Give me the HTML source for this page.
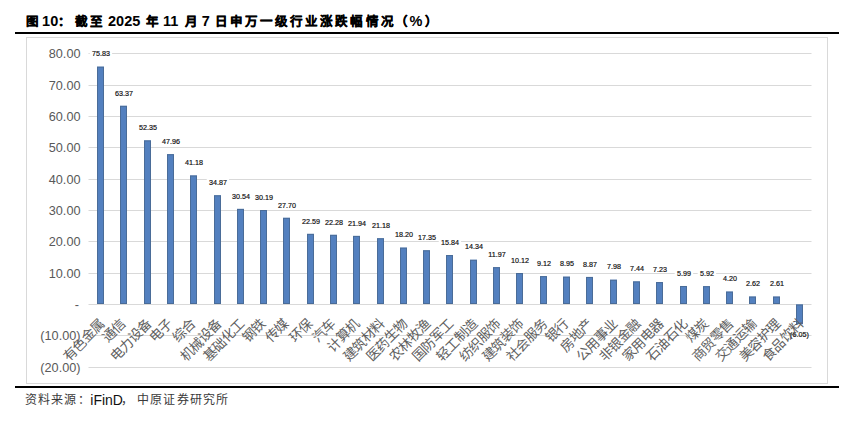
<!DOCTYPE html>
<html lang="zh-CN"><head><meta charset="utf-8">
<style>
html,body{margin:0;padding:0;background:#fff;width:854px;height:429px;overflow:hidden;}
body{position:relative;font-family:"Liberation Sans",sans-serif;}
.ts{position:absolute;top:12px;font-size:14.5px;font-weight:bold;color:#000;white-space:nowrap;line-height:18px;}
.ts.c{-webkit-text-stroke:0.3px #000;margin-top:1px;font-size:12.5px;letter-spacing:2.1px;}
.ss{position:absolute;top:392px;font-size:12px;color:#111;white-space:nowrap;line-height:16px;}
.ss.c{letter-spacing:1.2px;color:#3a3a3a;}
.ss.d{font-size:14px;}
.rule{position:absolute;left:15px;width:824px;height:2px;background:#000;}
.frame{position:absolute;left:26px;top:37px;width:802px;height:347px;border:1px solid #d9d9d9;box-sizing:border-box;}
svg{position:absolute;left:0;top:0;}
.yl{font-family:"Liberation Sans",sans-serif;font-size:12.7px;fill:#595959;text-anchor:end;}
.dl{font-family:"Liberation Sans",sans-serif;font-size:8px;font-weight:normal;fill:#111;stroke:#111;stroke-width:0.2px;text-anchor:middle;}
.cl{font-family:"Liberation Sans",sans-serif;font-size:13.5px;letter-spacing:0px;fill:#606060;text-anchor:end;}
</style></head><body>
<span class="ts c" style="left:26.00px">图</span><span class="ts d" style="left:42.10px">10</span><span class="ts c" style="left:58.40px">：</span><span class="ts c" style="left:75.10px">截至</span><span class="ts d" style="left:108.00px">2025</span><span class="ts c" style="left:146.00px">年</span><span class="ts d" style="left:162.90px">11</span><span class="ts c" style="left:185.00px">月</span><span class="ts d" style="left:201.80px">7</span><span class="ts c" style="left:214.60px">日申万一级行业涨跌幅情况</span><span class="ts c" style="left:395.00px">（</span><span class="ts d" style="left:409.50px">%</span><span class="ts c" style="left:425.00px">）</span>
<div class="rule" style="top:32px"></div>
<div class="frame"></div>
<svg width="854" height="429" viewBox="0 0 854 429">
<line x1="88.5" y1="367.50" x2="811.5" y2="367.50" stroke="#d9d9d9" stroke-width="1"/>
<text x="80.5" y="372.00" class="yl">(20.00)</text>
<line x1="88.5" y1="335.50" x2="811.5" y2="335.50" stroke="#d9d9d9" stroke-width="1"/>
<text x="80.5" y="340.00" class="yl">(10.00)</text>
<line x1="88.5" y1="304.50" x2="811.5" y2="304.50" stroke="#d9d9d9" stroke-width="1"/>
<text x="79.0" y="309.00" class="yl">-</text>
<line x1="88.5" y1="273.50" x2="811.5" y2="273.50" stroke="#d9d9d9" stroke-width="1"/>
<text x="80.5" y="278.00" class="yl">10.00</text>
<line x1="88.5" y1="241.50" x2="811.5" y2="241.50" stroke="#d9d9d9" stroke-width="1"/>
<text x="80.5" y="246.00" class="yl">20.00</text>
<line x1="88.5" y1="210.50" x2="811.5" y2="210.50" stroke="#d9d9d9" stroke-width="1"/>
<text x="80.5" y="215.00" class="yl">30.00</text>
<line x1="88.5" y1="179.50" x2="811.5" y2="179.50" stroke="#d9d9d9" stroke-width="1"/>
<text x="80.5" y="184.00" class="yl">40.00</text>
<line x1="88.5" y1="147.50" x2="811.5" y2="147.50" stroke="#d9d9d9" stroke-width="1"/>
<text x="80.5" y="152.00" class="yl">50.00</text>
<line x1="88.5" y1="116.50" x2="811.5" y2="116.50" stroke="#d9d9d9" stroke-width="1"/>
<text x="80.5" y="121.00" class="yl">60.00</text>
<line x1="88.5" y1="85.50" x2="811.5" y2="85.50" stroke="#d9d9d9" stroke-width="1"/>
<text x="80.5" y="90.00" class="yl">70.00</text>
<line x1="88.5" y1="53.50" x2="811.5" y2="53.50" stroke="#d9d9d9" stroke-width="1"/>
<text x="80.5" y="58.00" class="yl">80.00</text>
<rect x="97" y="66.69" width="7" height="237.31" fill="#5380bf"/>
<rect x="97.5" y="67.19" width="6" height="236.31" fill="none" stroke="#4a6c98" stroke-width="1"/>
<rect x="120" y="105.82" width="7" height="198.18" fill="#5380bf"/>
<rect x="120.5" y="106.32" width="6" height="197.18" fill="none" stroke="#4a6c98" stroke-width="1"/>
<rect x="144" y="140.42" width="7" height="163.58" fill="#5380bf"/>
<rect x="144.5" y="140.92" width="6" height="162.58" fill="none" stroke="#4a6c98" stroke-width="1"/>
<rect x="167" y="154.21" width="7" height="149.79" fill="#5380bf"/>
<rect x="167.5" y="154.71" width="6" height="148.79" fill="none" stroke="#4a6c98" stroke-width="1"/>
<rect x="190" y="175.49" width="7" height="128.51" fill="#5380bf"/>
<rect x="190.5" y="175.99" width="6" height="127.51" fill="none" stroke="#4a6c98" stroke-width="1"/>
<rect x="214" y="195.31" width="7" height="108.69" fill="#5380bf"/>
<rect x="214.5" y="195.81" width="6" height="107.69" fill="none" stroke="#4a6c98" stroke-width="1"/>
<rect x="237" y="208.90" width="7" height="95.10" fill="#5380bf"/>
<rect x="237.5" y="209.40" width="6" height="94.10" fill="none" stroke="#4a6c98" stroke-width="1"/>
<rect x="260" y="210.00" width="7" height="94.00" fill="#5380bf"/>
<rect x="260.5" y="210.50" width="6" height="93.00" fill="none" stroke="#4a6c98" stroke-width="1"/>
<rect x="283" y="217.82" width="7" height="86.18" fill="#5380bf"/>
<rect x="283.5" y="218.32" width="6" height="85.18" fill="none" stroke="#4a6c98" stroke-width="1"/>
<rect x="307" y="233.87" width="7" height="70.13" fill="#5380bf"/>
<rect x="307.5" y="234.37" width="6" height="69.13" fill="none" stroke="#4a6c98" stroke-width="1"/>
<rect x="330" y="234.84" width="7" height="69.16" fill="#5380bf"/>
<rect x="330.5" y="235.34" width="6" height="68.16" fill="none" stroke="#4a6c98" stroke-width="1"/>
<rect x="353" y="235.91" width="7" height="68.09" fill="#5380bf"/>
<rect x="353.5" y="236.41" width="6" height="67.09" fill="none" stroke="#4a6c98" stroke-width="1"/>
<rect x="377" y="238.29" width="7" height="65.71" fill="#5380bf"/>
<rect x="377.5" y="238.79" width="6" height="64.71" fill="none" stroke="#4a6c98" stroke-width="1"/>
<rect x="400" y="247.65" width="7" height="56.35" fill="#5380bf"/>
<rect x="400.5" y="248.15" width="6" height="55.35" fill="none" stroke="#4a6c98" stroke-width="1"/>
<rect x="423" y="250.32" width="7" height="53.68" fill="#5380bf"/>
<rect x="423.5" y="250.82" width="6" height="52.68" fill="none" stroke="#4a6c98" stroke-width="1"/>
<rect x="446" y="255.06" width="7" height="48.94" fill="#5380bf"/>
<rect x="446.5" y="255.56" width="6" height="47.94" fill="none" stroke="#4a6c98" stroke-width="1"/>
<rect x="470" y="259.77" width="7" height="44.23" fill="#5380bf"/>
<rect x="470.5" y="260.27" width="6" height="43.23" fill="none" stroke="#4a6c98" stroke-width="1"/>
<rect x="493" y="267.21" width="7" height="36.79" fill="#5380bf"/>
<rect x="493.5" y="267.71" width="6" height="35.79" fill="none" stroke="#4a6c98" stroke-width="1"/>
<rect x="516" y="273.02" width="7" height="30.98" fill="#5380bf"/>
<rect x="516.5" y="273.52" width="6" height="29.98" fill="none" stroke="#4a6c98" stroke-width="1"/>
<rect x="540" y="276.16" width="7" height="27.84" fill="#5380bf"/>
<rect x="540.5" y="276.66" width="6" height="26.84" fill="none" stroke="#4a6c98" stroke-width="1"/>
<rect x="563" y="276.70" width="7" height="27.30" fill="#5380bf"/>
<rect x="563.5" y="277.20" width="6" height="26.30" fill="none" stroke="#4a6c98" stroke-width="1"/>
<rect x="586" y="276.95" width="7" height="27.05" fill="#5380bf"/>
<rect x="586.5" y="277.45" width="6" height="26.05" fill="none" stroke="#4a6c98" stroke-width="1"/>
<rect x="610" y="279.74" width="7" height="24.26" fill="#5380bf"/>
<rect x="610.5" y="280.24" width="6" height="23.26" fill="none" stroke="#4a6c98" stroke-width="1"/>
<rect x="633" y="281.44" width="7" height="22.56" fill="#5380bf"/>
<rect x="633.5" y="281.94" width="6" height="21.56" fill="none" stroke="#4a6c98" stroke-width="1"/>
<rect x="656" y="282.10" width="7" height="21.90" fill="#5380bf"/>
<rect x="656.5" y="282.60" width="6" height="20.90" fill="none" stroke="#4a6c98" stroke-width="1"/>
<rect x="680" y="285.99" width="7" height="18.01" fill="#5380bf"/>
<rect x="680.5" y="286.49" width="6" height="17.01" fill="none" stroke="#4a6c98" stroke-width="1"/>
<rect x="703" y="286.21" width="7" height="17.79" fill="#5380bf"/>
<rect x="703.5" y="286.71" width="6" height="16.79" fill="none" stroke="#4a6c98" stroke-width="1"/>
<rect x="726" y="291.61" width="7" height="12.39" fill="#5380bf"/>
<rect x="726.5" y="292.11" width="6" height="11.39" fill="none" stroke="#4a6c98" stroke-width="1"/>
<rect x="749" y="296.57" width="7" height="7.43" fill="#5380bf"/>
<rect x="749.5" y="297.07" width="6" height="6.43" fill="none" stroke="#4a6c98" stroke-width="1"/>
<rect x="773" y="296.60" width="7" height="7.40" fill="#5380bf"/>
<rect x="773.5" y="297.10" width="6" height="6.40" fill="none" stroke="#4a6c98" stroke-width="1"/>
<rect x="796" y="304.50" width="7" height="19.60" fill="#5380bf"/>
<rect x="796.5" y="305.00" width="6" height="18.60" fill="none" stroke="#4a6c98" stroke-width="1"/>
<rect x="89.73" y="49.89" width="22.35" height="7.50" fill="#fff"/>
<text transform="translate(100.90,56.39) scale(0.9,1)" class="dl">75.83</text>
<text transform="translate(123.90,95.52) scale(0.9,1)" class="dl">63.37</text>
<text transform="translate(147.90,130.12) scale(0.9,1)" class="dl">52.35</text>
<text transform="translate(170.90,143.91) scale(0.9,1)" class="dl">47.96</text>
<text transform="translate(193.90,165.19) scale(0.9,1)" class="dl">41.18</text>
<rect x="206.72" y="178.51" width="22.35" height="7.50" fill="#fff"/>
<text transform="translate(217.90,185.01) scale(0.9,1)" class="dl">34.87</text>
<text transform="translate(240.90,198.60) scale(0.9,1)" class="dl">30.54</text>
<text transform="translate(263.90,199.70) scale(0.9,1)" class="dl">30.19</text>
<text transform="translate(286.90,207.52) scale(0.9,1)" class="dl">27.70</text>
<text transform="translate(310.90,223.57) scale(0.9,1)" class="dl">22.59</text>
<text transform="translate(333.90,224.54) scale(0.9,1)" class="dl">22.28</text>
<text transform="translate(356.90,225.61) scale(0.9,1)" class="dl">21.94</text>
<text transform="translate(380.90,227.99) scale(0.9,1)" class="dl">21.18</text>
<text transform="translate(403.90,237.35) scale(0.9,1)" class="dl">18.20</text>
<rect x="415.72" y="233.52" width="22.35" height="7.50" fill="#fff"/>
<text transform="translate(426.90,240.02) scale(0.9,1)" class="dl">17.35</text>
<rect x="438.72" y="238.26" width="22.35" height="7.50" fill="#fff"/>
<text transform="translate(449.90,244.76) scale(0.9,1)" class="dl">15.84</text>
<text transform="translate(473.90,249.47) scale(0.9,1)" class="dl">14.34</text>
<text transform="translate(496.90,256.91) scale(0.9,1)" class="dl">11.97</text>
<text transform="translate(519.90,262.72) scale(0.9,1)" class="dl">10.12</text>
<text transform="translate(543.90,265.86) scale(0.9,1)" class="dl">9.12</text>
<text transform="translate(566.90,266.40) scale(0.9,1)" class="dl">8.95</text>
<text transform="translate(589.90,266.65) scale(0.9,1)" class="dl">8.87</text>
<text transform="translate(613.90,269.44) scale(0.9,1)" class="dl">7.98</text>
<text transform="translate(636.90,271.14) scale(0.9,1)" class="dl">7.44</text>
<text transform="translate(659.90,271.80) scale(0.9,1)" class="dl">7.23</text>
<rect x="674.66" y="269.19" width="18.48" height="7.50" fill="#fff"/>
<text transform="translate(683.90,275.69) scale(0.9,1)" class="dl">5.99</text>
<rect x="697.66" y="269.41" width="18.48" height="7.50" fill="#fff"/>
<text transform="translate(706.90,275.91) scale(0.9,1)" class="dl">5.92</text>
<text transform="translate(729.90,281.31) scale(0.9,1)" class="dl">4.20</text>
<text transform="translate(752.90,286.27) scale(0.9,1)" class="dl">2.62</text>
<text transform="translate(776.90,286.30) scale(0.9,1)" class="dl">2.61</text>
<text transform="translate(799.50,337.00) scale(0.9,1)" class="dl">(6.05)</text>
<text transform="translate(105.50,325) rotate(-45)" class="cl">有色金属</text>
<text transform="translate(126.60,325) rotate(-45)" class="cl">通信</text>
<text transform="translate(152.50,325) rotate(-45)" class="cl">电力设备</text>
<text transform="translate(173.60,325) rotate(-45)" class="cl">电子</text>
<text transform="translate(196.60,325) rotate(-45)" class="cl">综合</text>
<text transform="translate(222.50,325) rotate(-45)" class="cl">机械设备</text>
<text transform="translate(245.50,325) rotate(-45)" class="cl">基础化工</text>
<text transform="translate(266.60,325) rotate(-45)" class="cl">钢铁</text>
<text transform="translate(289.60,325) rotate(-45)" class="cl">传媒</text>
<text transform="translate(313.60,325) rotate(-45)" class="cl">环保</text>
<text transform="translate(336.60,325) rotate(-45)" class="cl">汽车</text>
<text transform="translate(360.55,325) rotate(-45)" class="cl">计算机</text>
<text transform="translate(385.50,325) rotate(-45)" class="cl">建筑材料</text>
<text transform="translate(408.50,325) rotate(-45)" class="cl">医药生物</text>
<text transform="translate(431.50,325) rotate(-45)" class="cl">农林牧渔</text>
<text transform="translate(454.50,325) rotate(-45)" class="cl">国防军工</text>
<text transform="translate(478.50,325) rotate(-45)" class="cl">轻工制造</text>
<text transform="translate(501.50,325) rotate(-45)" class="cl">纺织服饰</text>
<text transform="translate(524.50,325) rotate(-45)" class="cl">建筑装饰</text>
<text transform="translate(548.50,325) rotate(-45)" class="cl">社会服务</text>
<text transform="translate(569.60,325) rotate(-45)" class="cl">银行</text>
<text transform="translate(593.55,325) rotate(-45)" class="cl">房地产</text>
<text transform="translate(618.50,325) rotate(-45)" class="cl">公用事业</text>
<text transform="translate(641.50,325) rotate(-45)" class="cl">非银金融</text>
<text transform="translate(664.50,325) rotate(-45)" class="cl">家用电器</text>
<text transform="translate(688.50,325) rotate(-45)" class="cl">石油石化</text>
<text transform="translate(709.60,325) rotate(-45)" class="cl">煤炭</text>
<text transform="translate(734.50,325) rotate(-45)" class="cl">商贸零售</text>
<text transform="translate(757.50,325) rotate(-45)" class="cl">交通运输</text>
<text transform="translate(781.50,325) rotate(-45)" class="cl">美容护理</text>
<text transform="translate(804.50,325) rotate(-45)" class="cl">食品饮料</text>
</svg>
<div class="rule" style="top:386px"></div>
<span class="ss c" style="left:24.60px">资料来源</span><span class="ss c" style="left:77.50px">：</span><span class="ss d" style="left:90.30px">iFinD</span><span class="ss c" style="left:121.20px">，</span><span class="ss c" style="left:137.10px">中原证券研究所</span>
</body></html>
